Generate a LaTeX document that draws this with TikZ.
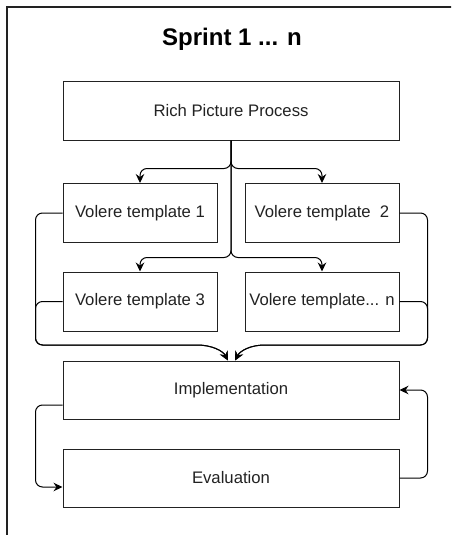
\documentclass[tikz,border=0pt]{standalone}
\usepackage{fontspec}
\setmainfont{Liberation Sans}
\usetikzlibrary{arrows.meta}
\definecolor{ink}{HTML}{222222}
\tikzset{
  frameline/.style={line width=1.2pt, draw=ink},
  box/.style={draw=ink, line width=1pt, rectangle, inner sep=0pt, text=ink,
              font=\fontsize{16.7}{20}\selectfont},
  wide/.style={box, minimum width=336pt, minimum height=58pt},
  narrow/.style={box, minimum width=154pt, minimum height=59pt},
  conn/.style={draw=black, line width=1pt, rounded corners=7pt,
               -{Stealth[length=9pt,width=8.5pt,inset=3pt]}},
}
\begin{document}
\begin{tikzpicture}[x=1pt,y=-1pt]
\useasboundingbox (0,0) rectangle (451,535);
\clip (0,0) rectangle (451,535);

% surrounding frame (only its top and left sides fall inside the page)
\draw[frameline] (7,540) -- (7,7) -- (460,7);

\node[font=\bfseries\fontsize{24}{28}\selectfont, text=black] (title) at (232,39) {Sprint 1 ... n};

\node[wide, minimum height=59pt] (rpp) at (231,110.5) {Rich Picture Process};
\node[narrow] (v1) at (140,213) {Volere template 1};
\node[narrow] (v2) at (322,213) {\raisebox{-3pt}{Volere template\ \ 2}};
\node[narrow] (v3) at (140,301.5) {Volere template 3};
\node[narrow] (v4) at (322,301.5) {Volere template... n};
\node[wide] (impl) at (231,390) {Implementation};
\node[wide] (eval) at (231,478) {Evaluation};

% branching from the rich picture process
\draw[conn] (rpp.south) -- ++(0,28) -| (v1.north);
\draw[conn] (rpp.south) -- ++(0,28) -| (v2.north);
\draw[conn] (rpp.south) -- ++(0,117) -| (v3.north);
\draw[conn] (rpp.south) -- ++(0,117) -| (v4.north);

% templates merging into the implementation
\coordinate (inL) at ([xshift=-3pt]impl.north);
\coordinate (inR) at ([xshift=4pt]impl.north);
\draw[conn] (v1.west) -- ++(-27,0) |- (190,345) .. controls (212,345) and (223,351) .. (inL);
\draw[conn] (v3.west) -- ++(-27,0) |- (190,345) .. controls (212,345) and (223,351) .. (inL);
\draw[conn] (v2.east) -- ++(28,0) |- (272,345) .. controls (250,345) and (240,351) .. (inR);
\draw[conn] (v4.east) -- ++(28,0) |- (272,345) .. controls (250,345) and (240,351) .. (inR);

% implementation / evaluation loop
\draw[conn] ([yshift=-15pt]impl.west) -- ++(-27,0) |- ([yshift=-9pt]eval.west);
\draw[conn] (eval.east) -- ++(28,0) |- (impl.east);
\end{tikzpicture}
\end{document}
